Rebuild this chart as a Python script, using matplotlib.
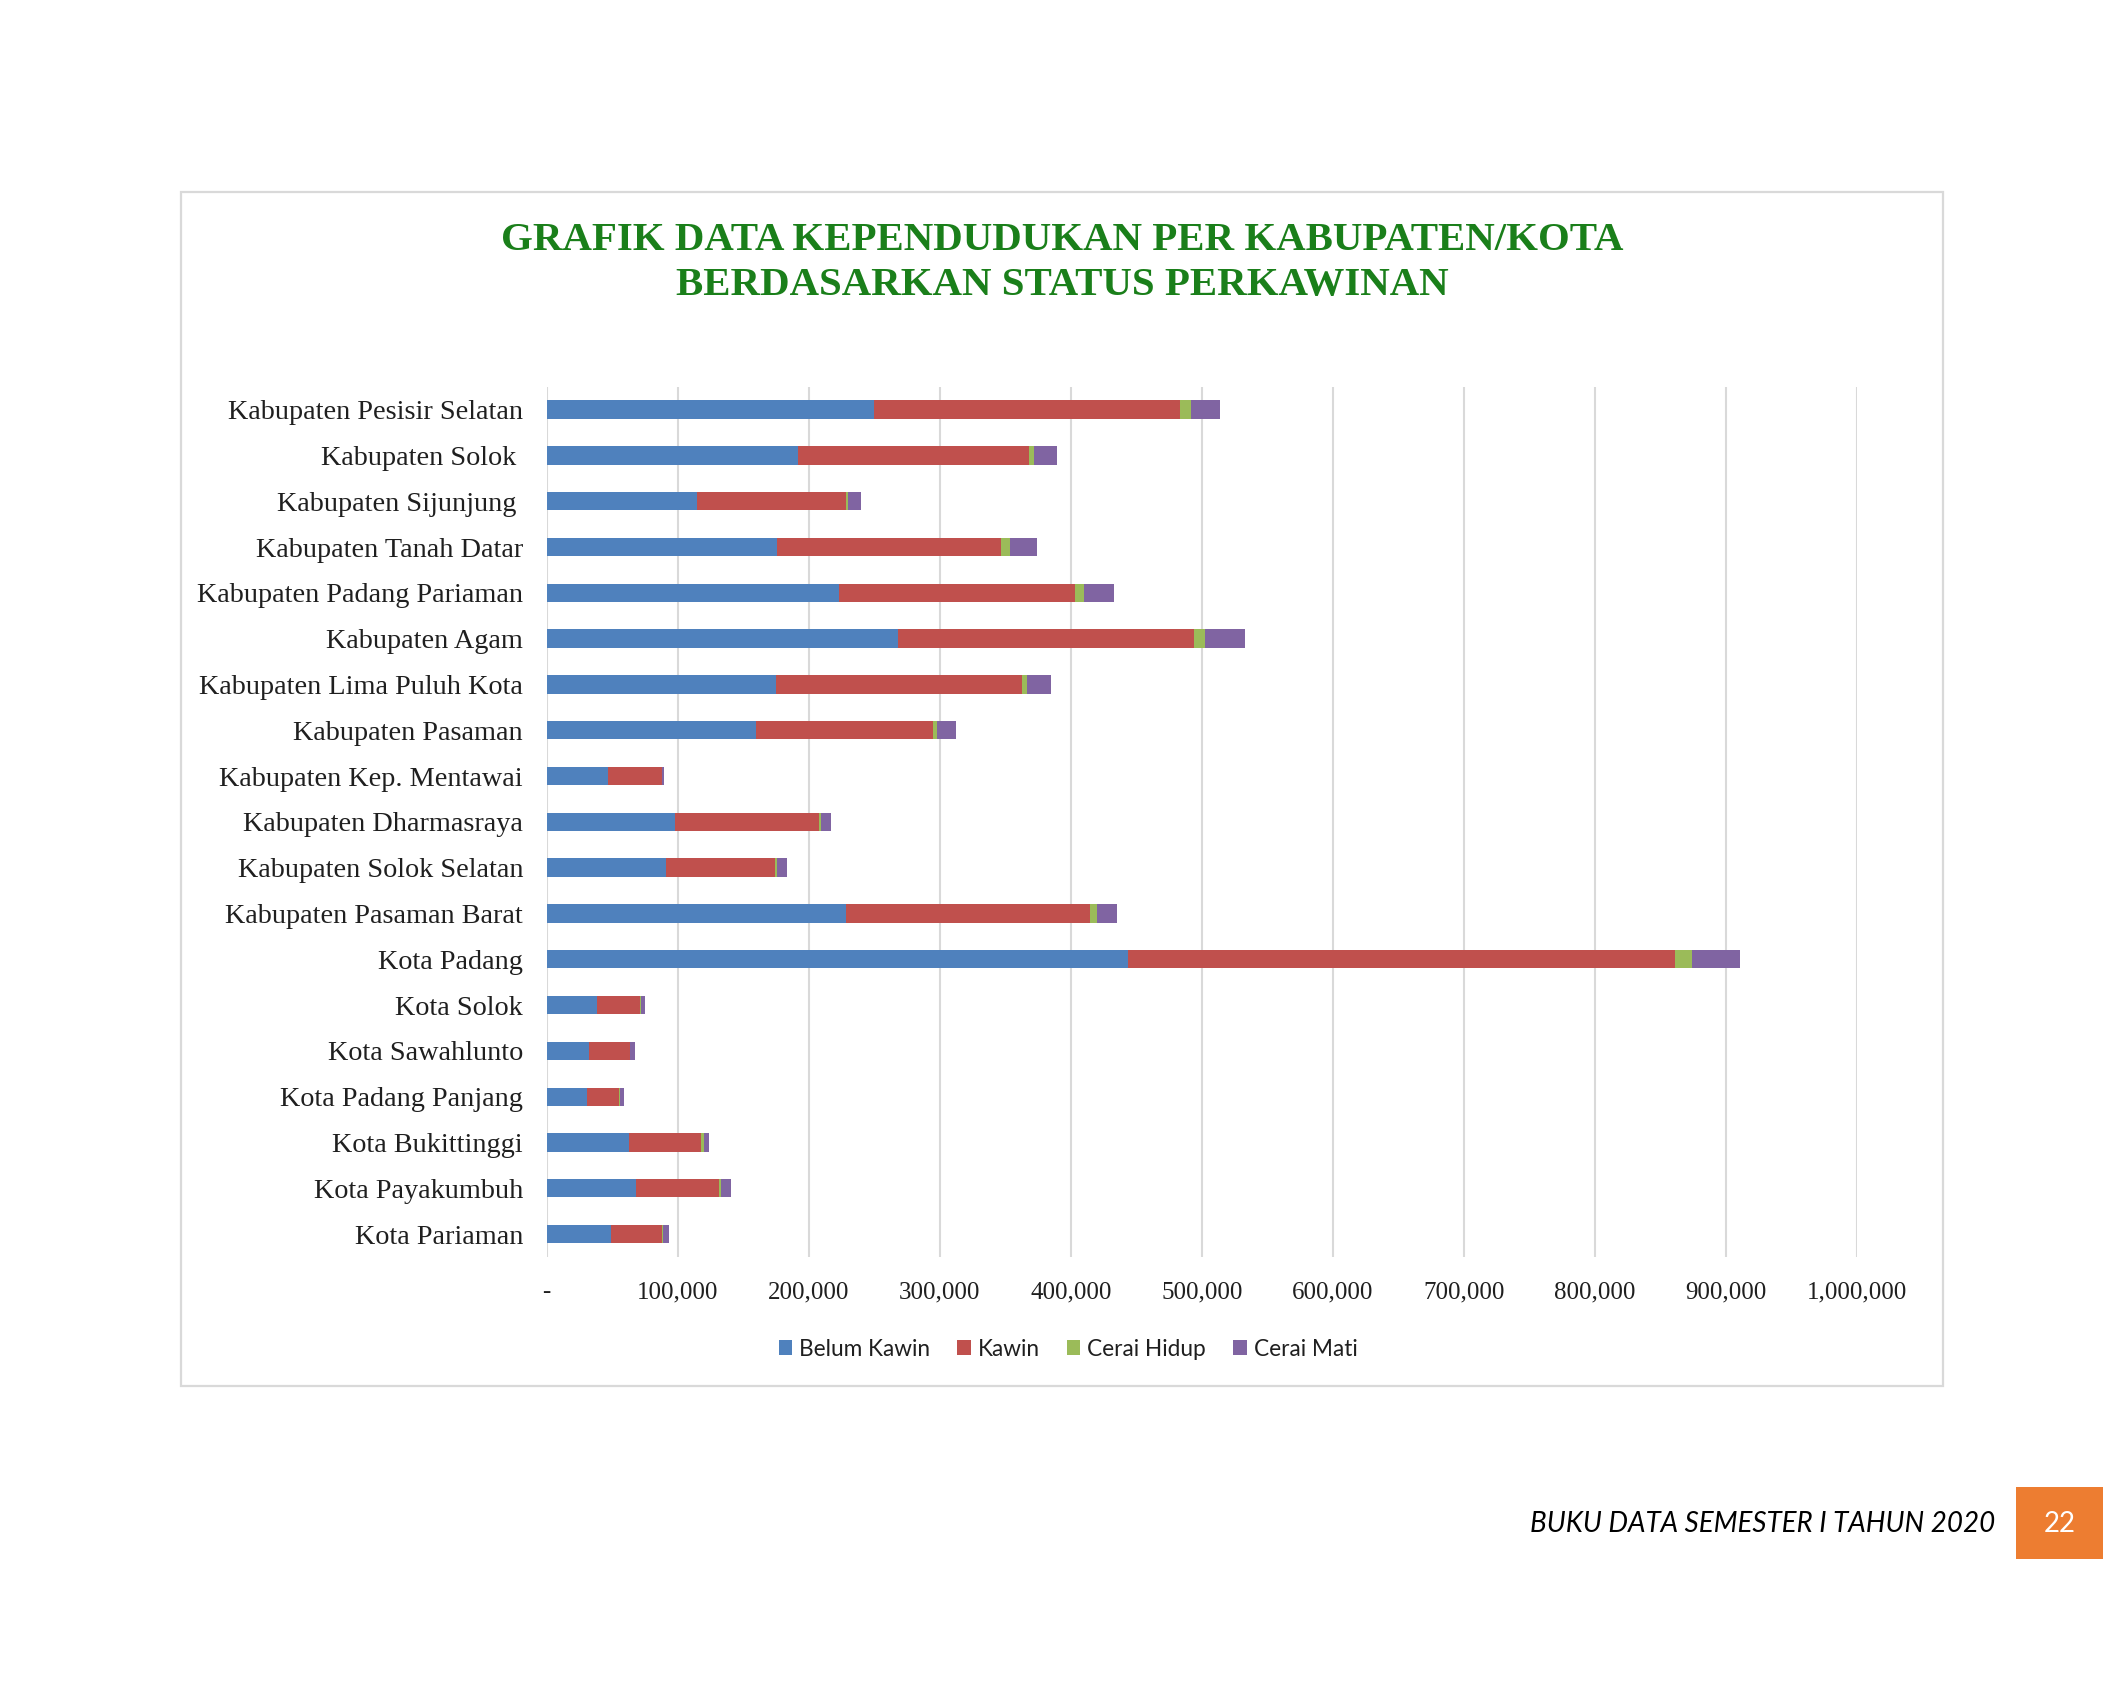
import matplotlib
matplotlib.use("Agg")
import matplotlib.pyplot as plt
from matplotlib.patches import Rectangle, Patch
from matplotlib.ticker import FuncFormatter

categories = [
    "Kabupaten Pesisir Selatan", "Kabupaten Solok ", "Kabupaten Sijunjung ",
    "Kabupaten Tanah Datar", "Kabupaten Padang Pariaman", "Kabupaten Agam",
    "Kabupaten Lima Puluh Kota", "Kabupaten Pasaman", "Kabupaten Kep. Mentawai",
    "Kabupaten Dharmasraya", "Kabupaten Solok Selatan", "Kabupaten Pasaman Barat",
    "Kota Padang", "Kota Solok", "Kota Sawahlunto", "Kota Padang Panjang",
    "Kota Bukittinggi", "Kota Payakumbuh", "Kota Pariaman",
]
belum_kawin = [249500, 191700, 114600, 176100, 223300, 268200, 175100, 160100, 47100,
               98000, 91000, 228600, 443600, 38500, 32100, 31100, 62600, 68500, 49300]
kawin = [234000, 176700, 113500, 170800, 179900, 226000, 187900, 134900, 40700,
         109700, 83000, 186300, 417700, 32700, 31100, 24000, 55200, 62700, 38500]
cerai_hidup = [8000, 3700, 2100, 6500, 6900, 8000, 3700, 2700, 500,
               1600, 2100, 5400, 12700, 1100, 500, 600, 2100, 2100, 1100]
cerai_mati = [22000, 17100, 9700, 20800, 23000, 30500, 18300, 14400, 1100,
              7500, 7000, 15000, 36500, 2700, 3800, 3200, 4300, 7000, 4800]
series_names = ["Belum Kawin", "Kawin", "Cerai Hidup", "Cerai Mati"]
colors = ["#4F81BD", "#C0504D", "#9BBB59", "#8064A2"]
x_ticks = [0, 100000, 200000, 300000, 400000, 500000, 600000, 700000, 800000, 900000, 1000000]

W, H = 2126, 1693
fig = plt.figure(figsize=(W / 100, H / 100), dpi=100)
fig.patch.set_facecolor("white")

# chart frame
fig.patches.append(Rectangle((181 / W, 1 - 1386 / H), (1943 - 181) / W, (1386 - 192) / H,
                             transform=fig.transFigure, fill=False,
                             edgecolor="#D9D9D9", linewidth=1.6, zorder=0))

ax = fig.add_axes([546.7 / W, 1 - 1257 / H, (1857 - 546.7) / W, (1257 - 386.7) / H])
ypos = list(range(len(categories)))
series = [belum_kawin, kawin, cerai_hidup, cerai_mati]
left = [0] * len(categories)
for name, vals, col in zip(series_names, series, colors):
    ax.barh(ypos, vals, left=left, height=0.4, color=col, label=name, zorder=3)
    left = [a + b for a, b in zip(left, vals)]

ax.set_xlim(0, 1000000)
ax.set_ylim(len(categories) - 0.5, -0.5)
ax.set_xticks(x_ticks)
ax.xaxis.set_major_formatter(FuncFormatter(lambda v, p: "-" if v == 0 else f"{int(v):,}"))
ax.set_yticks(ypos)
ax.set_yticklabels(categories)
ax.grid(axis="x", color="#D9D9D9", linewidth=1.5, zorder=0)
ax.set_axisbelow(True)
for s in ax.spines.values():
    s.set_visible(False)
ax.tick_params(axis="both", length=0)
ax.tick_params(axis="y", pad=17)
ax.tick_params(axis="x", pad=17.5)
for lbl in ax.get_yticklabels():
    lbl.set_fontfamily("Liberation Serif")
    lbl.set_fontsize(20.3)
    lbl.set_color("#1F1F1F")
for lbl in ax.get_xticklabels():
    lbl.set_fontfamily("Liberation Serif")
    lbl.set_fontsize(18)
    lbl.set_color("#1F1F1F")

title_kw = dict(ha="center", va="center", fontfamily="Liberation Serif", fontweight="bold",
                fontsize=29.4, color="#1A7F1A")
fig.text(1062 / W, 1 - 240 / H, "GRAFIK DATA KEPENDUDUKAN PER KABUPATEN/KOTA", **title_kw)
fig.text(1062 / W, 1 - 286 / H, "BERDASARKAN STATUS PERKAWINAN", **title_kw)

handles = [Patch(facecolor=c, label=n) for n, c in zip(series_names, colors)]
leg = fig.legend(handles=handles, loc="center", bbox_to_anchor=(1068 / W, 1 - 1349 / H), ncol=4,
                 frameon=False, handlelength=0.6, handleheight=0.6, handletextpad=0.3,
                 columnspacing=1.2, prop={"family": "Lato", "size": 16.3})
for t in leg.get_texts():
    t.set_color("#1F1F1F")

fig.text(1995 / W, 1 - 1524 / H, "BUKU DATA SEMESTER I TAHUN 2020", ha="right", va="center",
         fontfamily="Lato", fontstyle="italic", fontsize=20, color="black")
fig.patches.append(Rectangle((2016 / W, 1 - 1559 / H), 87 / W, 72 / H, transform=fig.transFigure,
                             facecolor="#ED7D31", edgecolor="none"))
fig.text(2060 / W, 1 - 1524 / H, "22", ha="center", va="center", fontfamily="Lato",
         fontsize=20, color="white")

fig.savefig("out.png", dpi=100, facecolor="white")
